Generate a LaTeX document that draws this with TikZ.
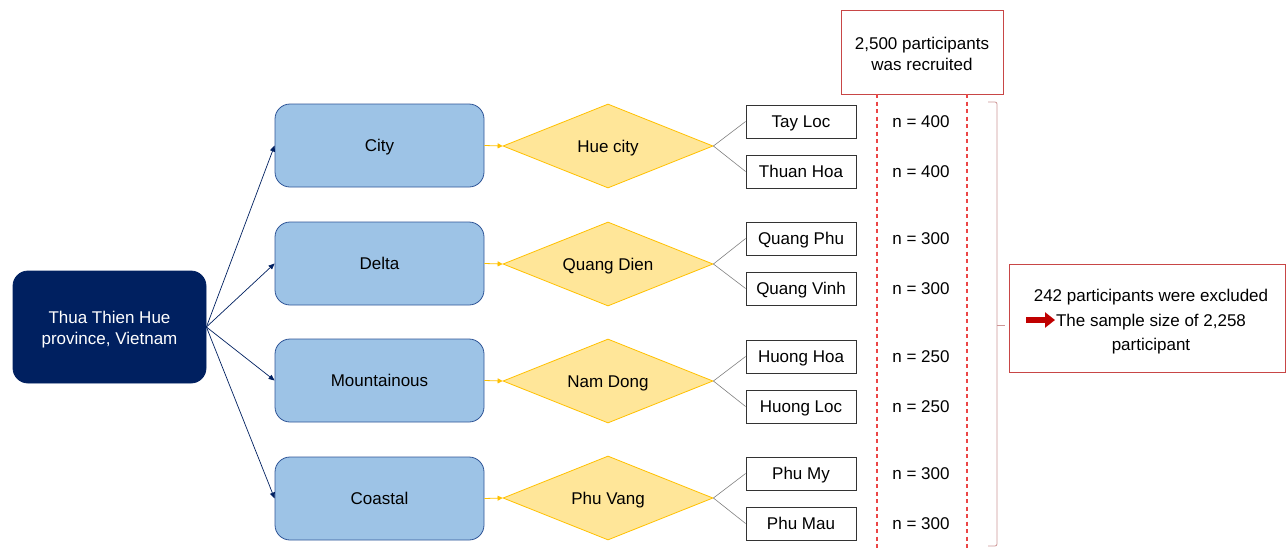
\documentclass[tikz,border=0pt]{standalone}
\usepackage{fontspec}
\setmainfont{Liberation Sans}
\usetikzlibrary{shapes.geometric,arrows.meta}
\definecolor{navy}{RGB}{0,32,96}
\definecolor{boxblue}{RGB}{157,195,230}
\definecolor{boxblueline}{RGB}{47,85,151}
\definecolor{dfill}{RGB}{255,230,153}
\definecolor{dline}{RGB}{255,192,0}
\definecolor{redline}{RGB}{200,70,70}
\definecolor{dashred}{RGB}{235,70,70}
\definecolor{bracecol}{RGB}{205,150,150}
\definecolor{darkred}{RGB}{192,0,0}
\definecolor{graylink}{RGB}{128,128,128}
\tikzset{
  every node/.style={font=\fontsize{17}{21}\selectfont, inner sep=0pt},
  oneline/.style={text height=13pt, text depth=1pt},
  mainbox/.style={draw=navy, fill=navy, rounded corners=15, minimum width=193, minimum height=112, line width=0.8},
  maintext/.style={text=white, align=center},
  areabox/.style={oneline, draw=boxblueline, fill=boxblue, rounded corners=15, minimum width=209, minimum height=83, line width=0.8},
  distbox/.style={oneline, diamond, shape aspect=2.5, draw=dline, fill=dfill, minimum width=210, minimum height=84, line width=0.8},
  wardbox/.style={oneline, draw=black!80, fill=white, minimum width=110, minimum height=33, line width=0.8},
  nlabel/.style={oneline},
  redbox/.style={draw=redline, fill=white, line width=0.8},
  boxtext/.style={align=center},
  navyarrow/.style={draw=navy, line width=0.7, -{Triangle[length=6,width=5]}},
  yelarrow/.style={draw=dline, line width=0.8, -{Triangle[length=5,width=5]}},
  graylink/.style={draw=graylink, line width=0.6},
  reddash/.style={draw=dashred, line width=1.15, dash pattern=on 4 off 3.5},
}
\begin{document}
\begin{tikzpicture}[x=1pt,y=-1pt]
\useasboundingbox (0,0) rectangle (1286,550);

\node[mainbox] (main) at (109.5,327) {};
\node[maintext] (maintxt) at (109.5,330) {Thua Thien Hue\\province, Vietnam};

\node[areabox] (city) at (379.5,145.5) {City};
\node[areabox] (delta) at (379.5,263.5) {Delta};
\node[areabox] (mount) at (379.5,380.5) {Mountainous};
\node[areabox] (coast) at (379.5,498.5) {Coastal};

\node[distbox] (hue) at (608,146) {Hue city};
\node[distbox] (qd) at (608,264) {Quang Dien};
\node[distbox] (nd) at (608,381) {Nam Dong};
\node[distbox] (pv) at (608,498) {Phu Vang};

\node[wardbox] (w1) at (801,121.5) {Tay Loc};
\node[wardbox] (w2) at (801,171.5) {Thuan Hoa};
\node[wardbox] (w3) at (801,238.5) {Quang Phu};
\node[wardbox] (w4) at (801,288.5) {Quang Vinh};
\node[wardbox] (w5) at (801,356.5) {Huong Hoa};
\node[wardbox] (w6) at (801,406.5) {Huong Loc};
\node[wardbox] (w7) at (801,473.5) {Phu My};
\node[wardbox] (w8) at (801,523.5) {Phu Mau};

\node[nlabel] (n1) at (921,121.5) {n = 400};
\node[nlabel] (n2) at (921,171.5) {n = 400};
\node[nlabel] (n3) at (921,238.5) {n = 300};
\node[nlabel] (n4) at (921,288.5) {n = 300};
\node[nlabel] (n5) at (921,356.5) {n = 250};
\node[nlabel] (n6) at (921,406.5) {n = 250};
\node[nlabel] (n7) at (921,473.5) {n = 300};
\node[nlabel] (n8) at (921,523.5) {n = 300};

\foreach \b in {city,delta,mount,coast} \draw[navyarrow] (main.east) -- (\b.west);
\draw[yelarrow] (city.east) -- (hue.west);
\draw[yelarrow] (delta.east) -- (qd.west);
\draw[yelarrow] (mount.east) -- (nd.west);
\draw[yelarrow] (coast.east) -- (pv.west);

\draw[graylink] (hue.east) -- (w1.west);
\draw[graylink] (hue.east) -- (w2.west);
\draw[graylink] (qd.east) -- (w3.west);
\draw[graylink] (qd.east) -- (w4.west);
\draw[graylink] (nd.east) -- (w5.west);
\draw[graylink] (nd.east) -- (w6.west);
\draw[graylink] (pv.east) -- (w7.west);
\draw[graylink] (pv.east) -- (w8.west);

\node[redbox, minimum width=162, minimum height=84] (top) at (922,52) {};
\node[boxtext, font=\fontsize{17}{20.5}\selectfont] (toptxt) at (922,54) {2,500 participants\\was recruited};
\coordinate (d1top) at (877,94);
\coordinate (d1bot) at (877,550);
\coordinate (d2top) at (967,94);
\coordinate (d2bot) at (967,550);
\draw[reddash] (d1top) -- (d1bot);
\draw[reddash] (d2top) -- (d2bot);

\coordinate (bt) at (988,102);
\coordinate (bb) at (988,546);
\coordinate (bm) at (1005,325);
\draw[draw=bracecol, line width=0.8, rounded corners=2] (bt) -- (997,102) -- (997,546) -- (bb);
\draw[draw=bracecol, line width=0.8] (997,325) -- (bm);

\node[redbox, minimum width=276, minimum height=108] (excl) at (1147,318) {};
\node[boxtext, font=\fontsize{17}{24.5}\selectfont] (excltxt) at (1151,322) {242 participants were excluded\\The sample size of 2,258\\participant};
\coordinate (ra) at (1026,320);
\coordinate (rb) at (1055,320);
\draw[darkred, line width=6, -{Triangle[length=10,width=15]}] (ra) -- (rb);
\end{tikzpicture}
\end{document}
